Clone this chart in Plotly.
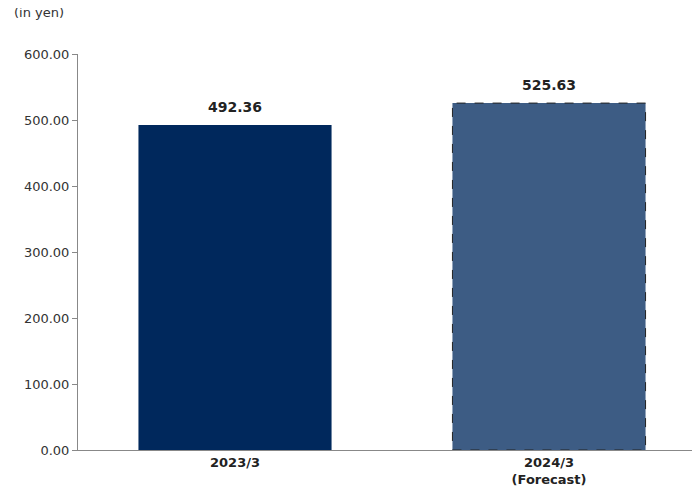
import plotly.graph_objects as go

categories = ["2023/3", "2024/3<br>(Forecast)"]
values = [492.36, 525.63]
bar_colors = ["#00285C", "#3D5C84"]
forecast = [False, True]

fig = go.Figure()
fig.add_trace(go.Bar(
    x=categories, y=values,
    marker=dict(color=bar_colors, line=dict(width=0)),
    showlegend=False, width=0.615,
))

for i, (c, v, f) in enumerate(zip(categories, values, forecast)):
    fig.add_annotation(x=c, y=v, text=f"<b>{v:.2f}</b>", showarrow=False,
                       yanchor="bottom", yshift=8,
                       font=dict(size=14, color="#222222"))
    if f:
        fig.add_shape(type="rect", xref="x", yref="y",
                      x0=i - 0.3075, x1=i + 0.3075, y0=0, y1=v,
                      line=dict(color="#222222", width=1, dash="dash"))

fig.update_layout(
    width=700, height=500,
    margin=dict(l=70, r=2, t=46, b=58),
    paper_bgcolor="white", plot_bgcolor="white",
    font=dict(family="DejaVu Sans", size=13, color="#333333"),
    xaxis=dict(showline=True, linecolor="#888888", ticks="",
               tickvals=categories,
               ticktext=[f"<b>{c}</b>" for c in categories],
               tickfont=dict(size=13, color="#222222")),
    yaxis=dict(range=[0, 600], dtick=100, tickformat=".2f",
               showline=True, linecolor="#888888", ticks="outside",
               tickcolor="#888888", ticklen=5, showgrid=False, zeroline=False),
    annotations=list(fig.layout.annotations) + [dict(
        text="(in yen)", xref="paper", yref="paper",
        x=-0.105, y=1.08, xanchor="left", yanchor="bottom",
        showarrow=False, font=dict(size=13, color="#333333"))],
)

fig.write_html("out.html")
